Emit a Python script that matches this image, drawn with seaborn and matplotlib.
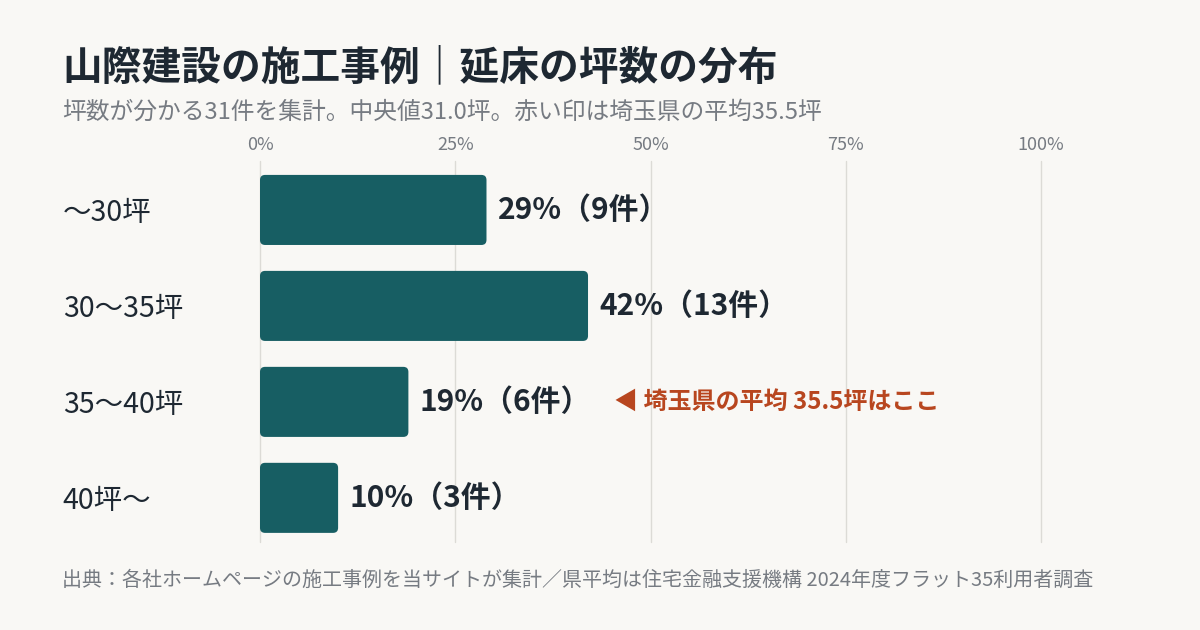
import numpy as np
import pandas as pd
import matplotlib
matplotlib.use('Agg')
import matplotlib.pyplot as plt
import seaborn as sns
from matplotlib.patches import FancyBboxPatch

# データ
categories = ['〜30坪', '30〜35坪', '35〜40坪', '40坪〜']
counts = [9, 13, 6, 3]
xticks = [0, 25, 50, 75, 100]
highlight_idx = 2  # 埼玉県の平均 35.5坪 が入る区分

title = '山際建設の施工事例｜延床の坪数の分布'
subtitle = '坪数が分かる31件を集計。中央値31.0坪。赤い印は埼玉県の平均35.5坪'
note = '◀ 埼玉県の平均 35.5坪はここ'
source = '出典：各社ホームページの施工事例を当サイトが集計／県平均は住宅金融支援機構 2024年度フラット35利用者調査'

BG = '#F9F8F5'
BAR = '#175E63'
DARK = '#1E2832'
GRAY = '#767B82'
ACCENT = '#B8461F'

sns.set_style('white')
plt.rcParams['font.family'] = ['Noto Sans CJK JP', 'DejaVu Sans']

total = sum(counts)
pct = np.round(np.array(counts) / total * 100).astype(int)  # 表示も棒も丸めた%
df = pd.DataFrame({'cat': categories, 'pct': pct, 'n': counts})

fig = plt.figure(figsize=(12, 6.3), dpi=100, facecolor=BG)
ax = fig.add_axes([260 / 1200, 1 - 542 / 630, 781 / 1200, 381 / 630])
ax.set_facecolor(BG)

sns.barplot(data=df, x='pct', y='cat', color=BAR, width=0.73, ax=ax, saturation=1)

# 角丸のバーに置き換え
for p in list(ax.patches):
    r = FancyBboxPatch((p.get_x(), p.get_y()), p.get_width(), p.get_height(),
                       boxstyle='round,pad=0,rounding_size=0.65',
                       mutation_aspect=0.081, fc=BAR, ec='none', zorder=3)
    ax.add_patch(r)
    p.set_visible(False)

ax.set_xlim(0, 100)
ax.set_ylim(3.46, -0.51)

# グリッド
for t in xticks:
    ax.axvline(t, color='#DCDBD6', lw=1, zorder=0, clip_on=False)

ax.xaxis.tick_top()
ax.set_xticks(xticks)
ax.set_xticklabels([f'{t}%' for t in xticks], color=GRAY, fontsize=13)
ax.tick_params(axis='x', length=0, pad=5)
ax.tick_params(axis='y', length=0, pad=142)
for lab in ax.get_yticklabels():
    lab.set_horizontalalignment('left')
    lab.set_fontsize(20.5)
    lab.set_color(DARK)
ax.set_xlabel('')
ax.set_ylabel('')
sns.despine(ax=ax, left=True, bottom=True, top=True, right=True)

# 値ラベル
for i, row in df.iterrows():
    ax.annotate(f"{row['pct']}%（{row['n']}件）",
                xy=(row['pct'], i), xytext=(8, 0), textcoords='offset points',
                va='center', ha='left', fontsize=21.5, fontweight='bold', color=DARK)

ax.text(45.3, highlight_idx, note, va='center', ha='left', fontsize=17.3,
        fontweight='bold', color=ACCENT)

fig.text(62 / 1200, 1 - 68 / 630, title, fontsize=28.6, fontweight='bold',
         color=DARK, va='center', ha='left')
fig.text(62 / 1200, 1 - 112 / 630, subtitle, fontsize=17.1, color=GRAY,
         va='center', ha='left')
fig.text(62 / 1200, 1 - 580 / 630, source, fontsize=14.4, color=GRAY,
         va='center', ha='left')

fig.savefig('out.png', dpi=100, facecolor=BG)
